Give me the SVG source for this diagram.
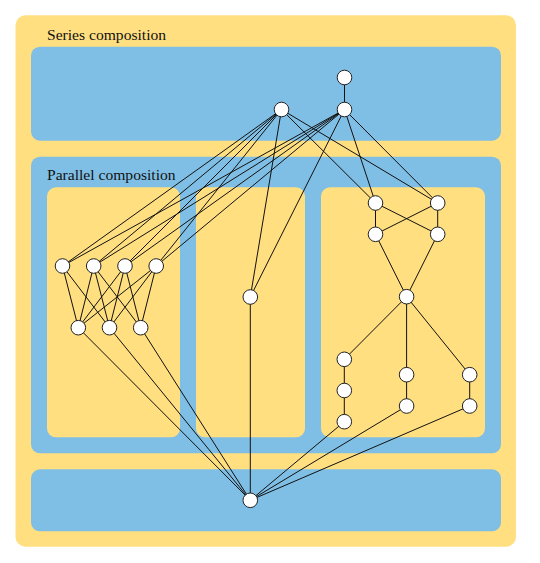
<svg xmlns="http://www.w3.org/2000/svg" width="540" height="563" viewBox="0 0 540 563">
<style>
.y{fill:#FFDF80}
.b{fill:#80BFE5}
.lbl{font-family:"Liberation Serif","Times New Roman",serif;font-size:15.6px;fill:#111}
.e line{stroke:#111;stroke-width:1}
.n circle{fill:#fff;stroke:#222;stroke-width:1}
</style>
<rect class="y" x="15.5" y="15.3" width="500.5" height="531.4" rx="10"/>
<rect class="b" x="31" y="46.7" width="470" height="94" rx="9"/>
<rect class="b" x="31" y="156.7" width="470" height="296.6" rx="9"/>
<rect class="b" x="31" y="469.3" width="470" height="62" rx="9"/>
<rect class="y" x="47" y="187.3" width="133" height="250" rx="9"/>
<rect class="y" x="196" y="187.3" width="109" height="250" rx="9"/>
<rect class="y" x="321" y="187.3" width="164" height="250" rx="9"/>
<text class="lbl" x="47" y="39.5">Series composition</text>
<text class="lbl" x="47" y="180">Parallel composition</text>
<g id="connectors" class="e">
<line x1="344.5" y1="77.5" x2="344.5" y2="109.5"/>
<line x1="281.5" y1="109.5" x2="62.5" y2="266"/>
<line x1="281.5" y1="109.5" x2="93.7" y2="266"/>
<line x1="281.5" y1="109.5" x2="125" y2="266"/>
<line x1="281.5" y1="109.5" x2="156.2" y2="266"/>
<line x1="281.5" y1="109.5" x2="250.3" y2="297"/>
<line x1="281.5" y1="109.5" x2="375.5" y2="203"/>
<line x1="281.5" y1="109.5" x2="437.7" y2="203"/>
<line x1="344.5" y1="109.5" x2="62.5" y2="266"/>
<line x1="344.5" y1="109.5" x2="93.7" y2="266"/>
<line x1="344.5" y1="109.5" x2="125" y2="266"/>
<line x1="344.5" y1="109.5" x2="156.2" y2="266"/>
<line x1="344.5" y1="109.5" x2="250.3" y2="297"/>
<line x1="344.5" y1="109.5" x2="375.5" y2="203"/>
<line x1="344.5" y1="109.5" x2="437.7" y2="203"/>
<line x1="62.5" y1="266" x2="78.3" y2="327.7"/>
<line x1="62.5" y1="266" x2="109.5" y2="327.7"/>
<line x1="93.7" y1="266" x2="78.3" y2="327.7"/>
<line x1="93.7" y1="266" x2="109.5" y2="327.7"/>
<line x1="93.7" y1="266" x2="140.7" y2="327.7"/>
<line x1="125" y1="266" x2="78.3" y2="327.7"/>
<line x1="125" y1="266" x2="109.5" y2="327.7"/>
<line x1="125" y1="266" x2="140.7" y2="327.7"/>
<line x1="156.2" y1="266" x2="78.3" y2="327.7"/>
<line x1="156.2" y1="266" x2="109.5" y2="327.7"/>
<line x1="156.2" y1="266" x2="140.7" y2="327.7"/>
<line x1="375.5" y1="203" x2="375.5" y2="234.3"/>
<line x1="437.7" y1="203" x2="437.7" y2="234.3"/>
<line x1="375.5" y1="203" x2="437.7" y2="234.3"/>
<line x1="437.7" y1="203" x2="375.5" y2="234.3"/>
<line x1="375.5" y1="234.3" x2="406.6" y2="296.7"/>
<line x1="437.7" y1="234.3" x2="406.6" y2="296.7"/>
<line x1="406.6" y1="296.7" x2="344.3" y2="359.3"/>
<line x1="406.6" y1="296.7" x2="406.6" y2="374.7"/>
<line x1="406.6" y1="296.7" x2="469.7" y2="374.7"/>
<line x1="344.3" y1="359.3" x2="344.3" y2="421.7"/>
<line x1="406.6" y1="374.7" x2="406.6" y2="406"/>
<line x1="469.7" y1="374.7" x2="469.7" y2="406"/>
<line x1="78.3" y1="327.7" x2="250.3" y2="500.3"/>
<line x1="109.5" y1="327.7" x2="250.3" y2="500.3"/>
<line x1="140.7" y1="327.7" x2="250.3" y2="500.3"/>
<line x1="250.3" y1="297" x2="250.3" y2="500.3"/>
<line x1="344.3" y1="421.7" x2="250.3" y2="500.3"/>
<line x1="406.6" y1="406" x2="250.3" y2="500.3"/>
<line x1="469.7" y1="406" x2="250.3" y2="500.3"/>
</g>
<g class="n">
<g id="A"><circle cx="344.5" cy="77.5" r="7.3"/></g>
<g id="B"><circle cx="281.5" cy="109.5" r="7.3"/></g>
<g id="C"><circle cx="344.5" cy="109.5" r="7.3"/></g>
<g id="L1"><circle cx="62.5" cy="266" r="7.3"/></g>
<g id="L2"><circle cx="93.7" cy="266" r="7.3"/></g>
<g id="L3"><circle cx="125" cy="266" r="7.3"/></g>
<g id="L4"><circle cx="156.2" cy="266" r="7.3"/></g>
<g id="M1"><circle cx="78.3" cy="327.7" r="7.3"/></g>
<g id="M2"><circle cx="109.5" cy="327.7" r="7.3"/></g>
<g id="M3"><circle cx="140.7" cy="327.7" r="7.3"/></g>
<g id="Mid"><circle cx="250.3" cy="297" r="7.3"/></g>
<g id="R1"><circle cx="375.5" cy="203" r="7.3"/></g>
<g id="R2"><circle cx="437.7" cy="203" r="7.3"/></g>
<g id="R3"><circle cx="375.5" cy="234.3" r="7.3"/></g>
<g id="R4"><circle cx="437.7" cy="234.3" r="7.3"/></g>
<g id="R5"><circle cx="406.6" cy="296.7" r="7.3"/></g>
<g id="R6"><circle cx="344.3" cy="359.3" r="7.3"/></g>
<g id="R7"><circle cx="344.3" cy="390.5" r="7.3"/></g>
<g id="R8"><circle cx="344.3" cy="421.7" r="7.3"/></g>
<g id="R9"><circle cx="406.6" cy="374.7" r="7.3"/></g>
<g id="R10"><circle cx="406.6" cy="406" r="7.3"/></g>
<g id="R11"><circle cx="469.7" cy="374.7" r="7.3"/></g>
<g id="R12"><circle cx="469.7" cy="406" r="7.3"/></g>
<g id="Z"><circle cx="250.3" cy="500.3" r="7.3"/></g>
</g>
</svg>
